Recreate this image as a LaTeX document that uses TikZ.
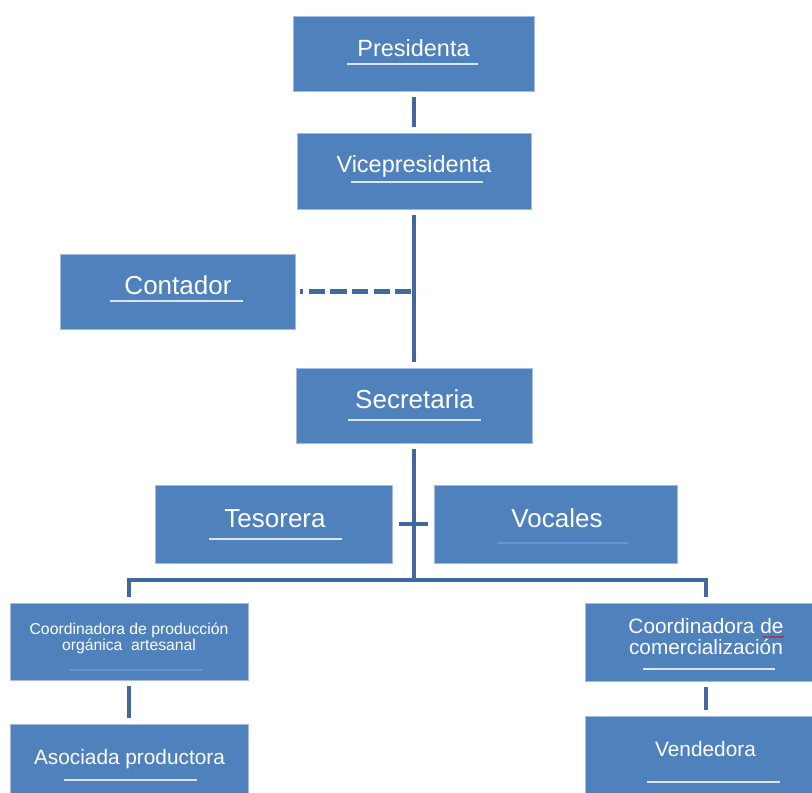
\documentclass[tikz,border=0pt]{standalone}
\usepackage{fontspec}
\setmainfont{Liberation Sans}
\usepackage{tikz}
\usetikzlibrary{calc,decorations.pathmorphing}
\definecolor{orgblue}{HTML}{4F81BD}
\definecolor{orgline}{HTML}{41699E}
\definecolor{orgedge}{HTML}{A3BCDD}
\definecolor{orgunder}{HTML}{DCE5F1}
\definecolor{orgfaint}{HTML}{6196D8}
\newcommand{\gap}{1.5mm}
\newcommand{\connwidth}{2.9pt}

\tikzset{
  box/.style={rectangle, fill=orgblue, draw=orgedge, line width=0.5pt, inner sep=0pt},
  conn/.style={draw=orgline, line width=\connwidth, shorten <=\gap, shorten >=\gap},
  txtL/.style={text=white, font=\fontsize{18.5}{22}\selectfont, anchor=base, inner sep=0pt},
  txtM/.style={text=white, font=\fontsize{16.7}{20}\selectfont, anchor=base, inner sep=0pt},
  txtS/.style={text=white, font=\fontsize{14.8}{15}\selectfont, anchor=base, inner sep=0pt, align=center},
  txtXS/.style={text=white, font=\fontsize{11.2}{11.4}\selectfont, anchor=base, inner sep=0pt, align=center},
  uline/.style={draw=orgunder, line width=1pt},
  ufaint/.style={draw=orgfaint, line width=0.8pt}
}

\begin{document}
\begin{tikzpicture}[x=0.025cm, y=-0.025cm]
\useasboundingbox (0,0) rectangle (812,793);
% boxes
\node[box, minimum width=6.025cm, minimum height=1.875cm] (1) at (414,53.5) {};
\node[box, minimum width=5.85cm, minimum height=1.9cm] (2) at (414,171) {};
\node[box, minimum width=5.875cm, minimum height=1.875cm] (3) at (177.5,291.5) {};
\node[box, minimum width=5.9cm, minimum height=1.875cm] (4) at (414,405.5) {};
\node[box, minimum width=5.925cm, minimum height=1.95cm] (5) at (273.5,524) {};
\node[box, minimum width=6.075cm, minimum height=1.95cm] (6) at (555.5,524) {};
\node[box, minimum width=5.95cm, minimum height=1.925cm] (7) at (129,641.5) {};
\node[box, minimum width=6.05cm, minimum height=1.95cm] (8) at (706,642) {};
\node[box, minimum width=5.95cm, minimum height=1.9cm] (9) at (129,762) {};
\node[box, minimum width=6.05cm, minimum height=1.975cm] (10) at (706,755.5) {};
% texts
\node[txtM] (t1) at (413.5,56.7) {Presidenta};
\node[txtM] (t2) at (414,173) {Vicepresidenta};
\node[txtL] (t3) at (178,295) {Contador};
\node[txtL] (t4) at (414.5,409) {Secretaria};
\node[txtL] (t5) at (275,528) {Tesorera};
\node[txtL] (t6) at (557,528) {Vocales};
\node[txtXS] (t7) at (129,651) {Coordinadora de producción\\orgánica~ artesanal};
\node[txtS] (t8) at (706,655) {Coordinadora de\\comercialización};
\node[txtS] (t9) at (129.5,765) {Asociada productora};
\node[txtS] (t10) at (705.5,757) {Vendedora};
% underlines
\draw[uline] (347,64) -- (478,64);
\draw[uline] (351,182) -- (483,182);
\draw[uline] (110,301) -- (243,301);
\draw[uline] (348,420) -- (481,420);
\draw[uline] (209,539) -- (342,539);
\draw[ufaint] (497,543) -- (628,543);
\draw[ufaint] (70,670) -- (202,670);
\draw[uline] (643,669) -- (775,669);
\draw[uline] (64,780) -- (197,780);
\draw[uline] (647,782) -- (780,782);
\draw[red!85!black, line width=0.4pt, decorate, decoration={snake, amplitude=0.4pt, segment length=2pt}] (762,637) -- (784,637);
% connectors
\coordinate (bus) at (414,580);
\draw[conn, line width=3.3pt, dash pattern=on 11.4pt off 3.9pt, shorten <=2.1pt, shorten >=3.5pt] (3.east -| 2.south) -- (3.east);
\draw[conn, line width=3.5pt] (1) -- (2);
\draw[conn] (2) -- (4);
\draw[conn, shorten >=0pt] (4) -- (bus);
\draw[conn] (7) -- (7 |- bus) -- (8 |- bus) -- (8);
\draw[conn, shorten <=1.75mm, shorten >=1.5mm] (5) -- (6);
\draw[conn] (7) -- (9);
\draw[conn] (8) -- (10);
\end{tikzpicture}
\end{document}
